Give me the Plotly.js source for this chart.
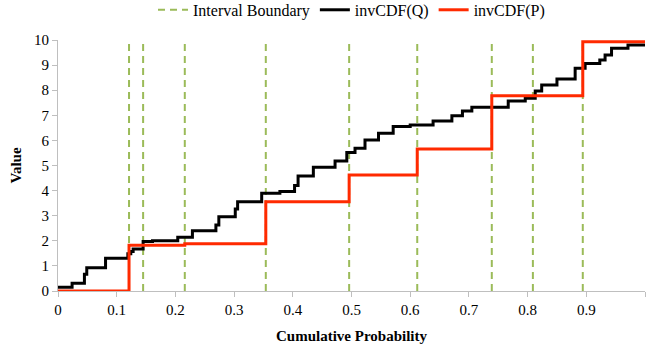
<!DOCTYPE html>
<html>
<head>
<meta charset="utf-8">
<script src="https://cdn.plot.ly/plotly-3.0.1.min.js"></script>
<style>html,body{margin:0;padding:0;background:#fff;}#chart{width:647px;height:347px;}</style>
</head>
<body>
<div id="chart"></div>
<script>
// Interval boundaries (cumulative probability)
const boundaries = [0.121, 0.145, 0.216, 0.354, 0.496, 0.612, 0.739, 0.809, 0.894];

// invCDF(Q): step start positions and values
const qX = [0, 0.024, 0.045, 0.049, 0.081, 0.119, 0.124, 0.128, 0.145, 0.161, 0.204, 0.229, 0.269, 0.274, 0.302, 0.306, 0.347, 0.378, 0.403, 0.409, 0.435, 0.472, 0.492, 0.506, 0.523, 0.546, 0.571, 0.600, 0.639, 0.671, 0.689, 0.705, 0.767, 0.796, 0.813, 0.824, 0.850, 0.881, 0.898, 0.923, 0.932, 0.943, 0.971, 1.0];
const qY = [0.15, 0.31, 0.67, 0.93, 1.30, 1.48, 1.57, 1.67, 1.97, 2.00, 2.14, 2.40, 2.63, 2.96, 3.27, 3.56, 3.89, 3.96, 4.20, 4.58, 4.93, 5.18, 5.52, 5.69, 6.02, 6.28, 6.55, 6.61, 6.77, 6.98, 7.17, 7.32, 7.57, 7.68, 7.97, 8.21, 8.45, 8.87, 9.06, 9.20, 9.40, 9.67, 9.80, 9.80];

// invCDF(P): step start positions and values
const pX = [0, 0.121, 0.216, 0.354, 0.496, 0.612, 0.739, 0.894, 1.0];
const pY = [0, 1.82, 1.88, 3.56, 4.62, 5.66, 7.78, 9.93, 9.93];

const yMin = 0, yMax = 10;

const bx = [], by = [];
boundaries.forEach(b => { bx.push(b, b, null); by.push(yMin, yMax, null); });

const font = "'Liberation Serif', 'Times New Roman', serif";

const traces = [
  {x: bx, y: by, type: 'scatter', mode: 'lines', name: 'Interval Boundary',
   line: {color: '#9BBB59', width: 2, dash: '7px,5px'}, connectgaps: false, hoverinfo: 'skip'},
  {x: qX, y: qY, type: 'scatter', mode: 'lines', name: 'invCDF(Q)',
   line: {color: '#000000', width: 3, shape: 'hv'}},
  {x: pX, y: pY, type: 'scatter', mode: 'lines', name: 'invCDF(P)',
   line: {color: '#FF2A00', width: 3, shape: 'hv'}}
];

const layout = {
  width: 647, height: 347,
  margin: {l: 58, r: 2, t: 40, b: 56, autoexpand: false},
  paper_bgcolor: '#fff', plot_bgcolor: '#fff',
  font: {family: font, size: 15, color: '#000'},
  showlegend: true,
  legend: {orientation: 'h', x: 0.5, xanchor: 'center', y: 1.12, yanchor: 'middle',
           font: {family: font, size: 16}, bgcolor: 'rgba(0,0,0,0)', itemwidth: 30},
  xaxis: {range: [0, 1], dtick: 0.1, tick0: 0, showgrid: false, zeroline: false,
          showline: true, linecolor: '#BFBFBF', linewidth: 1,
          ticks: 'outside', ticklen: 5, tickcolor: '#BFBFBF',
          tickfont: {family: font, size: 15},
          title: {text: '<b>Cumulative Probability</b>', font: {family: font, size: 15}, standoff: 13}},
  yaxis: {range: [yMin, yMax], dtick: 1, showgrid: false, zeroline: false,
          showline: true, linecolor: '#BFBFBF', linewidth: 1,
          ticks: 'outside', ticklen: 5, tickcolor: '#BFBFBF',
          tickfont: {family: font, size: 15},
          title: {text: '<b>Value</b>', font: {family: font, size: 15}, standoff: 8}}
};

Plotly.newPlot('chart', traces, layout, {displayModeBar: false, staticPlot: true});
</script>
</body>
</html>
